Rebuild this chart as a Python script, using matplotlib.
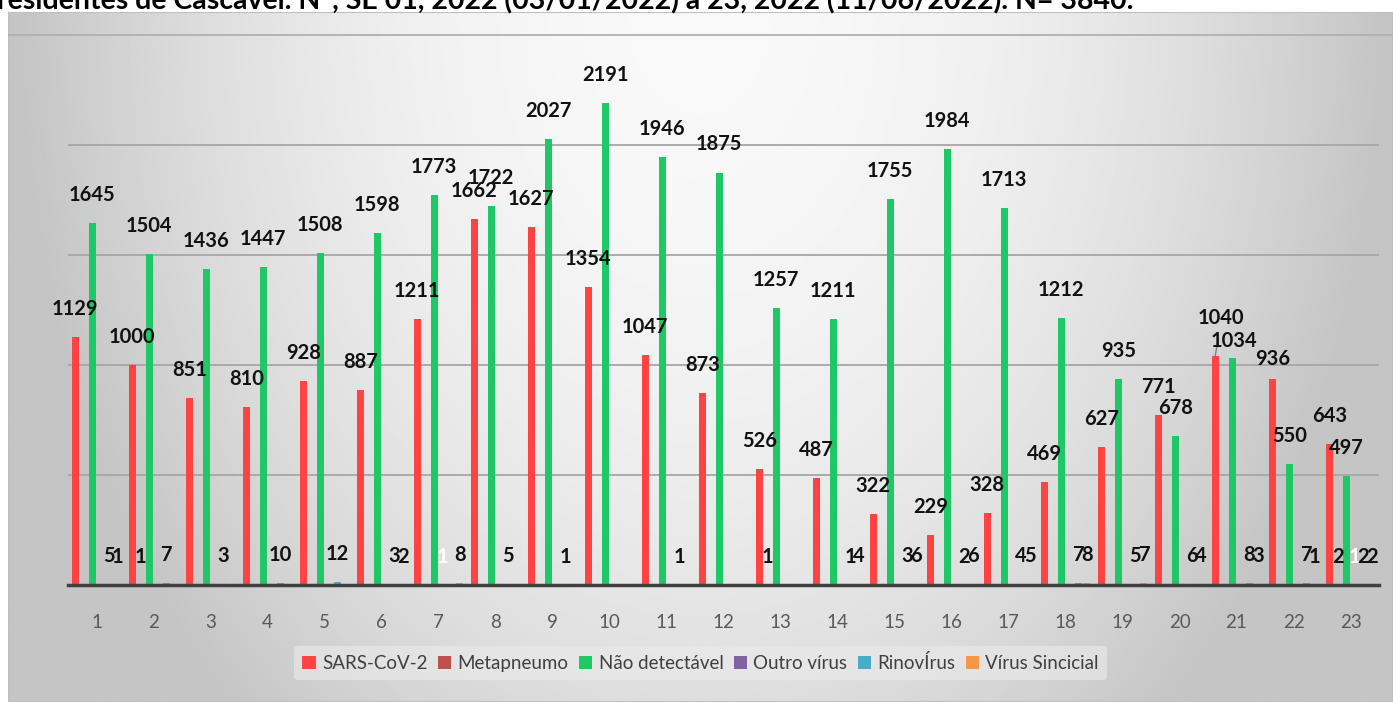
import numpy as np
import matplotlib.pyplot as plt
from matplotlib.patches import Rectangle

#----- data (epidemiological weeks 1..23)
weeks = [str(i) for i in range(1, 24)]
sars = [1129, 1000, 851, 810, 928, 887, 1211, 1662, 1627, 1354, 1047, 873,
        526, 487, 322, 229, 328, 469, 627, 771, 1040, 936, 643]
metapneumo = [0, 1, 0, 0, 0, 0, 0, 0, 0, 0, 0, 0,
              1, 0, 0, 0, 0, 0, 0, 0, 0, 0, 2]
nao_detectavel = [1645, 1504, 1436, 1447, 1508, 1598, 1773, 1722, 2027, 2191, 1946, 1875,
                  1257, 1211, 1755, 1984, 1713, 1212, 935, 678, 1034, 550, 497]
outro = [0, 0, 0, 0, 0, 0, 1, 0, 0, 0, 0, 0,
         0, 0, 0, 0, 0, 0, 0, 0, 0, 0, 1]
rinovirus = [5, 7, 3, 10, 12, 3, 0, 5, 1, 0, 1, 0,
             0, 1, 3, 2, 4, 7, 5, 6, 8, 7, 2]
sincicial = [1, 0, 0, 0, 0, 2, 8, 0, 0, 0, 0, 0,
             0, 4, 6, 6, 5, 8, 7, 4, 3, 1, 2]

series_names = ['SARS-CoV-2', 'Metapneumo', 'Não detectável',
                'Outro vírus', 'RinovÍrus', 'Vírus Sincicial']
series_values = [sars, metapneumo, nao_detectavel, outro, rinovirus, sincicial]
colors = ['#ff4343', '#c0504d', '#1ec864', '#8064a2', '#4bacc6', '#f79646']
label_colors = ['#111111', '#111111', '#111111', 'white', '#111111', '#111111']

title = ("residentes de Cascavel. N°, SE 01, 2022 (03/01/2022) a 23, 2022 "
         "(11/06/2022). N= 3840.")

W, H = 1393, 702
fig = plt.figure(figsize=(W/100, H/100), dpi=100)
fig.patch.set_facecolor('white')

#----- gray gradient background of the chart area
bg = fig.add_axes([8/W, 0, 1 - 8/W, 1 - 12/H])
gx = np.linspace(-1, 1, 600)
gy = np.linspace(0, 1, 300)
GX, GY = np.meshgrid(gx, gy)
grad = np.clip(0.975 - 0.21*(GX**2 + 0.5*GY**2), 0.77, 1)
bg.imshow(grad, cmap='gray', vmin=0, vmax=1, aspect='auto',
          extent=[0, 1, 0, 1], origin='upper')
bg.set_xlim(0, 1)
bg.set_ylim(0, 1)
bg.axis('off')
bg.add_patch(Rectangle((0, 0), 1, 1, fill=False, ec='#bfbfbf', lw=1.5,
                       transform=bg.transAxes))

# cut-off title at the very top
fig.text(-0.002, 1 - 9/H, title, fontsize=20.5, fontweight='bold',
         family='Lato', va='baseline', ha='left', color='black')

#----- bar chart
ax = fig.add_axes([68/W, (H - 585)/H, (1379 - 68)/W, (585 - 35)/H])
ax.patch.set_alpha(0)

n = len(weeks)
x = np.arange(n)
slot = 8.5/57
width = 0.125

# special label placement (pixels) for crowded spots
label_shift = {(0, 20): (6, 38), (2, 20): (2, 17), (0, 21): (0, 20)}

for k, (name, vals) in enumerate(zip(series_names, series_values)):
    pos = x + (k - 2.5)*slot
    ax.bar(pos, vals, width, color=colors[k], label=name, zorder=3)
    for i, v in enumerate(vals):
        if v == 0:
            continue
        dx, dy = label_shift.get((k, i), (0, 28))
        arrow = None
        if (k, i) == (0, 20):
            arrow = dict(arrowstyle='-', color='#7f7f7f', lw=1,
                         shrinkA=6, shrinkB=0)
        ax.annotate(str(v), (pos[i], v), xytext=(dx*0.72, dy*0.72),
                    textcoords='offset points', ha='center', va='center',
                    fontsize=14.5, fontweight='bold', family='Lato',
                    color=label_colors[k], zorder=5, arrowprops=arrow)

ax.set_xlim(-0.5, n - 0.5)
ax.set_ylim(0, 2500)
ax.set_yticks(np.arange(500, 2001, 500))
ax.yaxis.grid(True, color='#a6a6a6', lw=1.3, zorder=0)
ax.tick_params(axis='y', length=0, labelleft=False)
ax.set_xticks(x)
ax.set_xticklabels(weeks, fontsize=13.5, family='Lato', color='#595959')
ax.tick_params(axis='x', length=0, pad=21)
for s in ['right', 'left', 'top']:
    ax.spines[s].set_visible(False)
ax.spines['bottom'].set_color('#404040')
ax.spines['bottom'].set_linewidth(2.5)
ax.spines['bottom'].set_zorder(4)

# top line of the plot area runs across the whole chart frame
bg.axhline(1 - (35 - 12)/(H - 12), color='#b0b0b0', lw=1.3)

leg = fig.legend(loc='center', bbox_to_anchor=(0.503, (H - 663)/H), ncol=6,
                 frameon=True, handlelength=0.7, handleheight=0.7,
                 handletextpad=0.35, columnspacing=0.55, borderpad=0.45,
                 prop={'family': 'Lato', 'size': 13.5})
leg.get_frame().set_facecolor('#ebebeb')
leg.get_frame().set_edgecolor('none')
leg.get_frame().set_alpha(0.6)
for t in leg.get_texts():
    t.set_color('#404040')

plt.savefig('out.png', dpi=100)
